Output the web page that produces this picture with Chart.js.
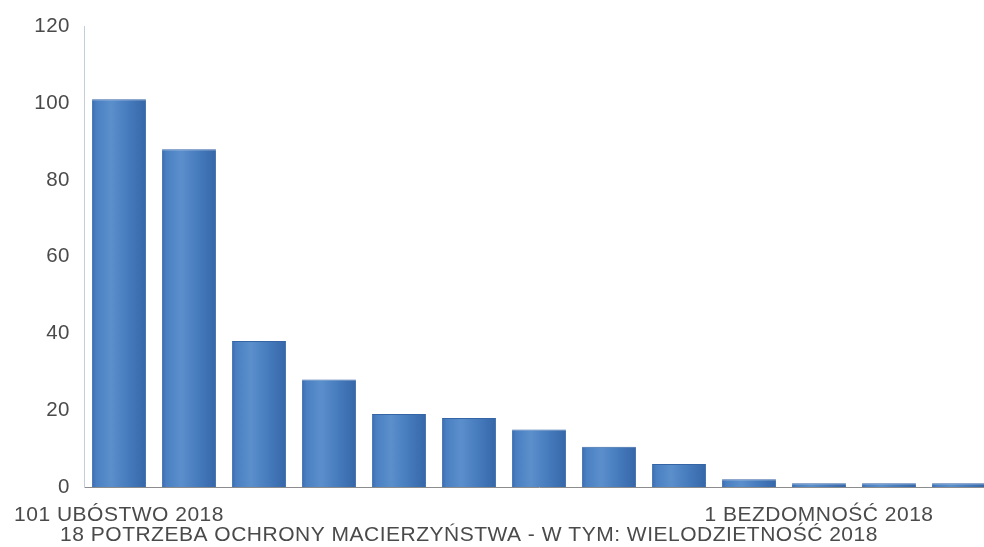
<!DOCTYPE html>
<html>
<head>
<meta charset="utf-8">
<script src="https://cdn.jsdelivr.net/npm/chart.js@4/dist/chart.umd.min.js"></script>
<style>
  html, body { margin: 0; padding: 0; background: #ffffff; overflow: hidden; }
  #wrap { width: 994px; height: 547px; position: relative; }
</style>
</head>
<body>
<div id="wrap"><canvas id="c"></canvas></div>
<script>
// Data
const categories = [
  "101 UBÓSTWO 2018", "", "", "", "",
  "18 POTRZEBA OCHRONY MACIERZYŃSTWA - W TYM: WIELODZIETNOŚĆ 2018",
  "", "", "", "",
  "1 BEZDOMNOŚĆ 2018", "", ""
];
const values = [101, 88, 38, 28, 19, 18, 15, 10.5, 6, 2, 1, 1, 1];
const yTicks = [0, 20, 40, 60, 80, 100, 120];
const secondRowIndex = [5];

const FONT = "'Liberation Sans', Arial, sans-serif";
const TEXT = '#4a4a4a';

function barFill(ctx) {
  const chart = ctx.chart;
  if (!chart.chartArea) return '#4a80c0';
  const x = chart.scales.x.getPixelForValue(ctx.dataIndex);
  const hw = 27;
  const g = chart.ctx.createLinearGradient(x - hw, 0, x + hw, 0);
  g.addColorStop(0, '#3a6cae');
  g.addColorStop(0.08, '#4a80c2');
  g.addColorStop(0.35, '#5b8fcc');
  g.addColorStop(0.7, '#4479bb');
  g.addColorStop(1, '#3667a8');
  return g;
}

const spacing = {
  id: 'spacing',
  beforeDraw(chart) { if ('letterSpacing' in chart.ctx) chart.ctx.letterSpacing = '0.5px'; },
  afterDraw(chart) { if ('letterSpacing' in chart.ctx) chart.ctx.letterSpacing = '0px'; }
};

new Chart(document.getElementById('c'), {
  type: 'bar',
  data: {
    labels: categories,
    datasets: [{
      data: values,
      backgroundColor: barFill,
      borderColor: '#3565a5',
      borderWidth: { top: 1, left: 0, right: 0, bottom: 0 },
      borderSkipped: 'bottom',
      categoryPercentage: 1.0,
      barPercentage: 0.77
    }]
  },
  plugins: [spacing],
  options: {
    responsive: true,
    maintainAspectRatio: false,
    animation: false,
    layout: { padding: { top: 24, right: 0, bottom: 0, left: 0 } },
    plugins: { legend: { display: false }, tooltip: { enabled: false } },
    scales: {
      x: {
        grid: { display: false, drawTicks: false },
        border: { display: true, color: '#8c8c8c', width: 1 },
        afterFit: (s) => { s.height = 60; s.paddingLeft = 0; s.paddingRight = 0; },
        ticks: {
          autoSkip: false,
          maxRotation: 0,
          minRotation: 0,
          padding: 18,
          color: TEXT,
          font: { family: FONT, size: 21, lineHeight: 0.96 },
          callback: function (v, i) {
            const lab = categories[i];
            if (!lab) return '';
            return secondRowIndex.includes(i) ? ['', lab] : lab;
          }
        }
      },
      y: {
        min: 0,
        max: 120,
        afterFit: (s) => { s.width = 84; },
        afterBuildTicks: (s) => { s.ticks = yTicks.map(v => ({ value: v })); },
        grid: { display: false, drawTicks: false },
        border: { display: true, color: '#c3ccd8', width: 1 },
        ticks: {
          padding: 14,
          color: TEXT,
          font: { family: FONT, size: 20.5 }
        }
      }
    }
  }
});
</script>
</body>
</html>
